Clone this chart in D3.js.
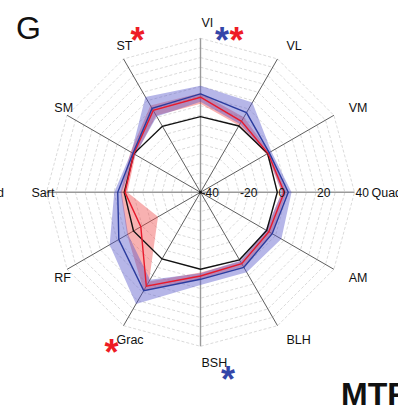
<!DOCTYPE html>
<html>
<head>
<meta charset="utf-8">
<script src="https://cdn.jsdelivr.net/npm/d3@7"></script>
<style>
  body { margin: 0; background: #fff; }
  text { font-family: 'Liberation Sans', Arial, sans-serif; }
</style>
</head>
<body>
<div id="chart"></div>
<script>
const width = 398
const height = 405

const muscles = ['VI', 'VL', 'VM', 'Quad', 'AM', 'BLH', 'BSH', 'Grac', 'RF', 'Sart', 'SM', 'ST']
const control = [-0.7, -0.2, 0.3, -0.1, -0.3, 0.5, 0, 0, 0.2, -0.4, 0, -0.4]
const redMean = [9.4, 2.6, 0.5, 3.5, 1, 2.8, 3.5, 16.3, -4.2, -0.8, 0, 9.1]
const redLow = [6, 0, -0.5, 2.2, -0.5, 1.5, 1.7, 13.5, -14.5, -2, -1, 6]
const redHigh = [11.6, 5, 1.5, 4.8, 3, 4.5, 5, 19, 4, 1.5, 2, 12]
const blueMean = [11.1, 7.8, 1.2, 5.6, 3, 5, 5.2, 19, 9, 3, 0.5, 10.3]
const blueLow = [7, 1, 0, 2.4, -1, 1, 2, 12.5, 3.5, 1, -1, 5.5]
const blueHigh = [15.4, 13.9, 2.5, 7.3, 8.5, 8, 8.2, 27, 14.5, 4.8, 1.5, 17.2]
const ticks = [-40, -20, 0, 20, 40]
// significance stars: muscle, colour
const stars = [
  ['ST', 'red'],
  ['VI', 'blue'],
  ['VI', 'red'],
  ['Grac', 'red'],
  ['BSH', 'blue']
]

const cx = 200.5
const cy = 192.3

const svg = d3
  .select('#chart')
  .append('svg')
  .attr('width', width)
  .attr('height', height)

const g = svg.append('g').attr('transform', `translate(${cx},${cy})`)

const rScale = d3.scaleLinear().domain([-40, 40]).range([0, 154])
const angleScale = d3.scaleLinear().domain([0, muscles.length]).range([0, 2 * Math.PI])

const radial = d3
  .lineRadial()
  .angle((d, i) => angleScale(i))
  .radius(d => rScale(d))
  .curve(d3.curveLinearClosed)

function point(i, v) {
  const a = angleScale(i)
  return [rScale(v) * Math.sin(a), -rScale(v) * Math.cos(a)]
}

// dashed grid rings
g.selectAll('.ring')
  .data(d3.range(-35, 41, 5))
  .enter()
  .append('path')
  .attr('class', 'ring')
  .attr('d', v => radial(muscles.map(() => v)))
  .attr('fill', 'none')
  .attr('stroke', '#d0d0d0')
  .attr('stroke-width', 0.8)
  .attr('stroke-dasharray', '3,2')

// spokes
g.selectAll('.spoke')
  .data(muscles)
  .enter()
  .append('line')
  .attr('class', 'spoke')
  .attr('x1', 0)
  .attr('y1', 0)
  .attr('x2', (d, i) => point(i, 40)[0])
  .attr('y2', (d, i) => point(i, 40)[1])
  .attr('stroke', (d, i) => (i % 3 === 0 ? '#9a9a9a' : '#333'))
  .attr('stroke-width', (d, i) => (i % 3 === 0 ? 1.4 : 0.8))

// bands (ring between low and high)
function band(low, high) {
  return radial(high) + radial(low)
}

g.append('path')
  .attr('d', band(redLow, redHigh))
  .attr('fill', 'rgb(238,70,70)')
  .attr('fill-opacity', 0.42)
  .attr('fill-rule', 'evenodd')

g.append('path')
  .attr('d', band(blueLow, blueHigh))
  .attr('fill', 'rgb(80,80,200)')
  .attr('fill-opacity', 0.42)
  .attr('fill-rule', 'evenodd')

const series = [
  { values: control, color: '#111' },
  { values: redMean, color: '#e8192c' },
  { values: blueMean, color: '#2b3c9e' }
]

g.selectAll('.series')
  .data(series)
  .enter()
  .append('path')
  .attr('class', 'series')
  .attr('d', d => radial(d.values))
  .attr('fill', 'none')
  .attr('stroke', d => d.color)
  .attr('stroke-width', 1.4)

g.append('circle').attr('r', 1.5).attr('fill', '#111')

// muscle labels
g.selectAll('.label')
  .data(muscles)
  .enter()
  .append('text')
  .attr('class', 'label')
  .text(d => d)
  .attr('x', (d, i) => point(i, 48.3)[0] + 1)
  .attr('y', (d, i) => point(i, 48.3)[1])
  .attr('dy', '0.36em')
  .attr('font-size', 12.5)
  .attr('fill', '#111')

// radial tick labels along the Quad axis
g.selectAll('.tick')
  .data(ticks)
  .enter()
  .append('text')
  .attr('class', 'tick')
  .text(d => d)
  .attr('x', d => rScale(d) + 1)
  .attr('y', 4.5)
  .attr('font-size', 12)
  .attr('fill', '#111')

// star offsets from the label anchor
const starShift = { ST: [22, -10], VI: [21.5, 13], Grac: [-4, 7.5], BSH: [27.5, 12] }

svg.selectAll('.star')
  .data(stars)
  .enter()
  .append('text')
  .attr('class', 'star')
  .text('*')
  .attr('x', (d, k) => {
    const p = point(muscles.indexOf(d[0]), 48.3)
    const extra = d[0] === 'VI' && d[1] === 'red' ? 14.5 : 0
    return cx + p[0] + starShift[d[0]][0] + extra
  })
  .attr('y', d => {
    const p = point(muscles.indexOf(d[0]), 48.3)
    return cy + p[1] + starShift[d[0]][1] + 18
  })
  .attr('text-anchor', 'middle')
  .attr('font-size', 36)
  .attr('font-weight', 'bold')
  .attr('fill', d => (d[1] === 'red' ? '#ee1c25' : '#3346a8'))

svg.append('text')
  .text('G')
  .attr('x', 16)
  .attr('y', 38.5)
  .attr('font-size', 32)
  .attr('fill', '#111')

svg.append('text')
  .text('MTF')
  .attr('x', 341)
  .attr('y', 405)
  .attr('font-size', 32)
  .attr('font-weight', 'bold')
  .attr('fill', '#111')

svg.append('text')
  .text('Quad')
  .attr('x', 4)
  .attr('y', cy + 4.7)
  .attr('text-anchor', 'end')
  .attr('font-size', 12.5)
  .attr('fill', '#111')
</script>
</body>
</html>
